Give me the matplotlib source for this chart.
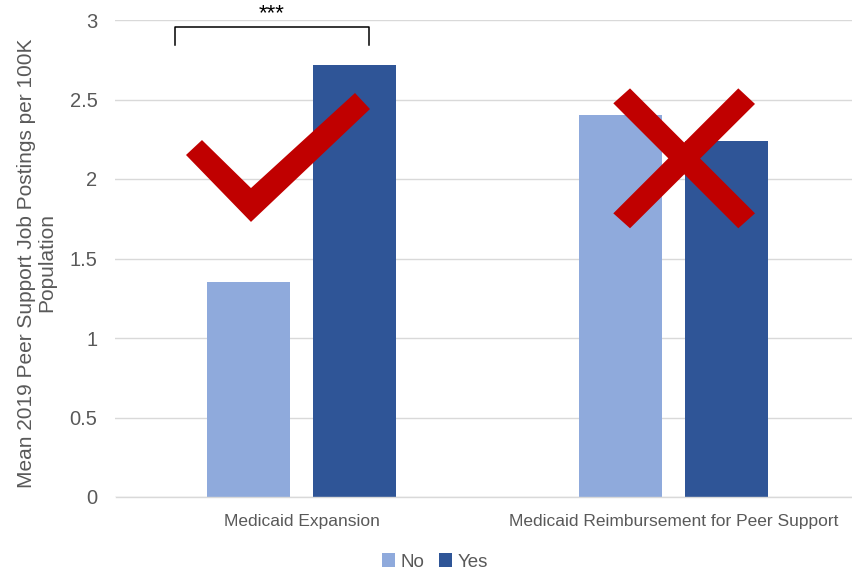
import matplotlib.pyplot as plt
import numpy as np
from matplotlib.patches import Polygon

plt.rcParams['font.family'] = ['Liberation Sans', 'DejaVu Sans']

# Mean 2019 peer support job postings per 100K population
categories = ["Medicaid Expansion", "Medicaid Reimbursement for Peer Support"]
groups = ["No", "Yes"]
values_no = [1.35, 2.40]
values_yes = [2.72, 2.24]
yticks = [0, 0.5, 1, 1.5, 2, 2.5, 3]
ytick_labels = ["0", "0.5", "1", "1.5", "2", "2.5", "3"]

color_no = "#8FAADC"
color_yes = "#2F5597"
red = "#C00000"
text_gray = "#595959"
grid_gray = "#D9D9D9"

fig = plt.figure(figsize=(8.53, 5.71), dpi=100)
ax = fig.add_axes([115.5 / 853, 1 - 497 / 571, 744 / 853, 477 / 571])

x = np.arange(len(categories))
width = 0.223
offset = 0.1425
ax.bar(x - offset, values_no, width, color=color_no, label=groups[0], zorder=2)
ax.bar(x + offset, values_yes, width, color=color_yes, label=groups[1], zorder=2)

ax.set_xlim(-0.5, 1.5)
ax.set_ylim(0, 3)
ax.set_yticks(yticks)
ax.set_yticklabels(ytick_labels)
ax.set_xticks(x)
ax.set_xticklabels(categories)
ax.tick_params(axis='y', length=0, pad=13, labelsize=14.5, labelcolor=text_gray)
ax.tick_params(axis='x', length=0, pad=12, labelsize=12.5, labelcolor=text_gray)
ax.yaxis.grid(True, color=grid_gray, linewidth=1, zorder=0)
ax.set_axisbelow(True)
for side in ['left', 'right', 'top']:
    ax.spines[side].set_visible(False)
ax.spines['bottom'].set_color(grid_gray)
ax.spines['bottom'].set_linewidth(1)

fig.text(37 / 853, 1 - 263 / 571,
         "Mean 2019 Peer Support Job Postings per 100K\nPopulation",
         rotation=90, ha='center', va='center', multialignment='center',
         fontsize=15, color=text_gray, linespacing=1.1)

# significance bracket over the expansion group
bx0, bx1 = -0.34, 0.181
ax.plot([bx0, bx0, bx1, bx1], [2.843, 2.956, 2.956, 2.843],
        color='black', linewidth=1.1, clip_on=False, zorder=4)
ax.text((bx0 + bx1) / 2, 2.975, "***", ha='center', va='bottom',
        fontsize=16, color='black', clip_on=False)

# red check mark and cross
check = [(-0.2675, 2.245), (-0.1358, 1.943), (0.1438, 2.541),
         (0.1841, 2.440), (-0.1358, 1.730), (-0.3105, 2.151)]
ax.add_patch(Polygon(check, closed=True, facecolor=red, edgecolor='none', zorder=5))
arm1 = [(0.8831, 2.570), (1.2191, 1.784), (1.1742, 1.690), (0.8382, 2.476)]
arm2 = [(1.1742, 2.570), (1.2191, 2.472), (0.8831, 1.690), (0.8382, 1.784)]
for arm in (arm1, arm2):
    ax.add_patch(Polygon(arm, closed=True, facecolor=red, edgecolor='none', zorder=5))

fig.legend(loc='center', bbox_to_anchor=(435 / 853, 1 - 562 / 571), ncol=2,
           frameon=False, fontsize=13.5, labelcolor=text_gray,
           handlelength=0.7, handleheight=0.7, handletextpad=0.3,
           columnspacing=0.8)

fig.savefig("out.png", dpi=100)
